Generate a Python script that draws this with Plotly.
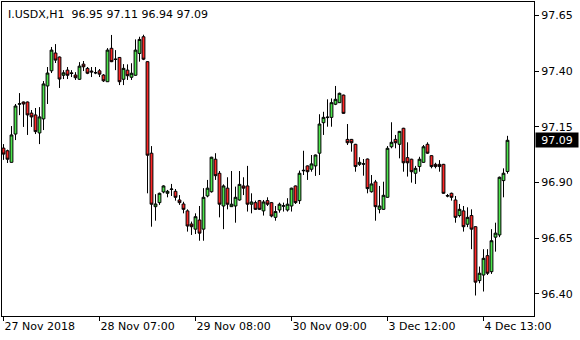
import plotly.graph_objects as go

symbol = "I.USDX,H1"
header_values = ["96.95", "97.11", "96.94", "97.09"]
last_price = 97.09

opens = [97.055, 97.043, 96.991, 97.118, 97.252, 97.262, 97.262, 97.212, 97.204, 97.123,
         97.186, 97.334, 97.402, 97.482, 97.464, 97.382, 97.405, 97.393, 97.383, 97.364,
         97.432, 97.413, 97.401, 97.392, 97.402, 97.383, 97.353, 97.503, 97.455, 97.462,
         97.364, 97.405, 97.373, 97.382, 97.480, 97.555, 97.443, 97.032, 96.792, 96.810,
         96.858, 96.852, 96.869, 96.861, 96.822, 96.804, 96.773, 96.714, 96.691, 96.732,
         96.691, 96.840, 96.859, 97.005, 96.942, 96.795, 96.875, 96.792, 96.795, 96.822,
         96.885, 96.885, 96.803, 96.810, 96.819, 96.773, 96.819, 96.810, 96.744, 96.777,
         96.794, 96.777, 96.795, 96.885, 96.819, 96.953, 96.975, 96.960, 96.975, 97.032,
         97.169, 97.192, 97.193, 97.252, 97.259, 97.293, 97.094, 97.094, 97.072, 96.982,
         96.985, 97.006, 96.859, 96.903, 96.780, 96.780, 96.834, 97.061, 97.094, 97.072,
         97.144, 97.012, 97.005, 96.942, 96.972, 96.991, 97.072, 97.021, 96.982, 96.982,
         96.982, 96.842, 96.852, 96.822, 96.752, 96.773, 96.713, 96.752, 96.702, 96.460,
         96.485, 96.572, 96.500, 96.655, 96.665, 96.909, 96.950]
highs = [97.073, 97.048, 97.154, 97.253, 97.302, 97.264, 97.264, 97.226, 97.235, 97.239,
         97.356, 97.419, 97.509, 97.522, 97.466, 97.405, 97.419, 97.405, 97.396, 97.441,
         97.446, 97.419, 97.419, 97.419, 97.410, 97.387, 97.504, 97.563, 97.495, 97.464,
         97.432, 97.431, 97.436, 97.543, 97.555, 97.564, 97.445, 97.064, 96.848, 96.855,
         96.888, 96.867, 96.894, 96.871, 96.844, 96.814, 96.780, 96.725, 96.762, 96.795,
         96.875, 96.912, 97.016, 97.032, 96.952, 96.892, 96.924, 96.952, 96.882, 96.952,
         96.924, 96.975, 96.852, 96.819, 96.822, 96.822, 96.834, 96.813, 96.795, 96.810,
         96.810, 96.830, 96.877, 96.887, 96.954, 97.043, 96.977, 97.024, 97.026, 97.207,
         97.218, 97.274, 97.278, 97.334, 97.304, 97.295, 97.163, 97.096, 97.074, 97.014,
         97.006, 97.008, 96.934, 96.912, 96.885, 96.904, 97.064, 97.171, 97.114, 97.132,
         97.146, 97.081, 97.007, 96.975, 97.016, 97.069, 97.081, 97.023, 96.989, 97.001,
         96.984, 96.849, 96.855, 96.840, 96.804, 96.795, 96.789, 96.780, 96.704, 96.523,
         96.601, 96.601, 96.691, 96.720, 96.927, 96.964, 97.110]
lows = [97.002, 96.988, 96.990, 97.091, 97.203, 97.150, 97.114, 97.150, 97.118, 97.073,
        97.136, 97.253, 97.392, 97.437, 97.325, 97.365, 97.365, 97.374, 97.361, 97.361,
        97.401, 97.387, 97.374, 97.387, 97.374, 97.352, 97.352, 97.441, 97.405, 97.338,
        97.338, 97.361, 97.361, 97.380, 97.443, 97.450, 96.852, 96.702, 96.729, 96.800,
        96.852, 96.834, 96.840, 96.819, 96.800, 96.762, 96.680, 96.665, 96.669, 96.639,
        96.639, 96.834, 96.855, 96.912, 96.744, 96.691, 96.780, 96.791, 96.720, 96.819,
        96.844, 96.770, 96.762, 96.777, 96.777, 96.752, 96.795, 96.744, 96.729, 96.765,
        96.770, 96.770, 96.770, 96.804, 96.804, 96.934, 96.912, 96.949, 96.930, 96.934,
        97.114, 97.151, 97.151, 97.248, 97.259, 97.209, 97.069, 97.039, 96.949, 96.975,
        96.931, 96.852, 96.855, 96.729, 96.762, 96.778, 96.832, 97.054, 97.054, 97.009,
        96.949, 96.927, 96.900, 96.894, 96.949, 96.989, 97.029, 96.964, 96.964, 96.949,
        96.850, 96.834, 96.819, 96.720, 96.744, 96.680, 96.700, 96.601, 96.393, 96.448,
        96.411, 96.485, 96.490, 96.590, 96.655, 96.834, 96.940]
closes = [97.028, 97.005, 97.114, 97.244, 97.254, 97.253, 97.204, 97.195, 97.129, 97.195,
          97.343, 97.392, 97.495, 97.450, 97.365, 97.393, 97.382, 97.390, 97.371, 97.423,
          97.420, 97.391, 97.397, 97.394, 97.387, 97.357, 97.495, 97.443, 97.453, 97.353,
          97.413, 97.380, 97.391, 97.495, 97.543, 97.454, 97.023, 96.803, 96.804, 96.852,
          96.885, 96.861, 96.871, 96.834, 96.810, 96.780, 96.705, 96.702, 96.747, 96.673,
          96.834, 96.875, 97.014, 96.931, 96.803, 96.885, 96.803, 96.803, 96.834, 96.892,
          96.875, 96.803, 96.813, 96.780, 96.780, 96.813, 96.803, 96.750, 96.770, 96.803,
          96.796, 96.803, 96.875, 96.810, 96.942, 96.955, 96.949, 96.984, 97.024, 97.163,
          97.193, 97.194, 97.259, 97.274, 97.301, 97.211, 97.079, 97.079, 96.972, 96.991,
          96.983, 96.873, 96.894, 96.792, 96.795, 96.843, 97.054, 97.081, 97.079, 97.130,
          96.989, 96.989, 96.949, 96.964, 97.005, 97.061, 97.032, 96.972, 96.972, 96.972,
          96.852, 96.840, 96.834, 96.744, 96.780, 96.702, 96.744, 96.691, 96.453, 96.493,
          96.560, 96.493, 96.639, 96.673, 96.924, 96.942, 97.090]

time_tick_bars = [0, 24, 48, 72, 96, 120]
time_tick_labels = ["27 Nov 2018", "28 Nov 07:00", "29 Nov 08:00",
                    "30 Nov 09:00", "3 Dec 12:00", "4 Dec 13:00"]
price_ticks = [96.40, 96.65, 96.90, 97.15, 97.40, 97.65]

GREEN = "#4CE64C"
RED = "#FF2626"
FONT = "DejaVu Sans"

bars = list(range(len(opens)))

fig = go.Figure(go.Candlestick(
    x=bars, open=opens, high=highs, low=lows, close=closes,
    increasing=dict(line=dict(color="black", width=1), fillcolor=GREEN),
    decreasing=dict(line=dict(color="black", width=1), fillcolor=RED),
    whiskerwidth=0, hoverinfo="skip", showlegend=False,
))

fig.update_layout(
    width=580, height=340,
    margin=dict(l=2, r=46, t=2, b=24),
    paper_bgcolor="white", plot_bgcolor="white",
    font=dict(family=FONT, size=11, color="black"),
    showlegend=False,
    boxgap=0.3, boxgroupgap=0,
)
fig.update_xaxes(
    range=[-0.375, 132.625], rangeslider_visible=False,
    tickmode="array", tickvals=time_tick_bars, ticktext=time_tick_labels,
    ticks="outside", ticklen=4, tickcolor="black", tickwidth=1,
    ticklabelposition="outside right",
    showline=True, linecolor="black", linewidth=1, mirror=True,
    showgrid=False, zeroline=False,
)
fig.update_yaxes(
    side="right", range=[96.301, 97.711],
    tickmode="array", tickvals=price_ticks,
    ticktext=[f"{v:.2f}" for v in price_ticks],
    ticks="outside", ticklen=4, tickcolor="black", tickwidth=1,
    showline=True, linecolor="black", linewidth=1, mirror=True,
    showgrid=False, zeroline=False,
)

fig.add_annotation(
    x=0, y=1, xref="paper", yref="paper", xanchor="left", yanchor="top",
    xshift=4, yshift=-4, showarrow=False,
    text=symbol + "\u00a0\u00a0" + "\u00a0".join(header_values),
    font=dict(family=FONT, size=11, color="black"),
)
fig.add_annotation(
    x=1, y=last_price, xref="paper", yref="y", xanchor="left", yanchor="middle",
    xshift=1, showarrow=False, text=f"{last_price:.2f}",
    bgcolor="black", borderpad=1, width=40, height=12,
    font=dict(family=FONT, size=11, color="white"),
)

fig.write_html("out.html")
